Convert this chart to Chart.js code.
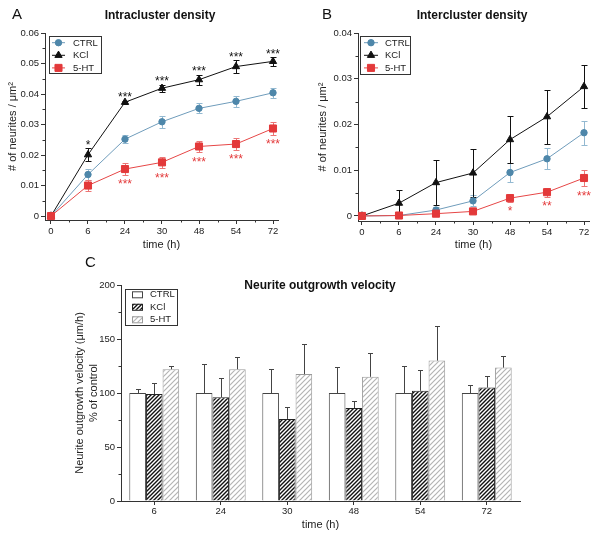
<!DOCTYPE html>
<html>
<head>
<meta charset="utf-8">
<script src="https://cdn.jsdelivr.net/npm/chart.js@4.4.0/dist/chart.umd.min.js"></script>
<style>
  body { margin: 0; background: #fff; width: 600px; height: 534px; position: relative; overflow: hidden;
         font-family: 'Liberation Sans', Arial, sans-serif; color: #111; }
  canvas { position: absolute; }
  .panel { position: absolute; font-size: 15px; line-height: 15px; }
  .title { position: absolute; font-size: 12px; line-height: 12px; font-weight: bold;
           transform: translateX(-50%); white-space: nowrap; }
</style>
</head>
<body>
<canvas id="intraChart" width="300" height="260" style="left:0;top:0"></canvas>
<canvas id="interChart" width="300" height="260" style="left:300px;top:0"></canvas>
<canvas id="velocityChart" width="600" height="264" style="left:0;top:270px"></canvas>
<div class="panel" style="left:12px;top:6px">A</div>
<div class="panel" style="left:322px;top:6px">B</div>
<div class="panel" style="left:85px;top:254px">C</div>
<div class="title" style="left:160px;top:9px">Intracluster density</div>
<div class="title" style="left:472px;top:9px">Intercluster density</div>
<div class="title" style="left:320px;top:279px">Neurite outgrowth velocity</div>

<script>
// time points (A, B)
const timeLabels = ['0', '6', '24', '30', '48', '54', '72'];

// A - intracluster density
const ctrlIntra = [0, 0.0136, 0.0252, 0.0309, 0.0353, 0.0376, 0.0404];
const ctrlIntraErr = [0, 0.0018, 0.0014, 0.0019, 0.0016, 0.0017, 0.0016];
const kclIntra = [0, 0.0201, 0.0373, 0.0419, 0.0447, 0.0490, 0.0507];
const kclIntraErr = [0, 0.0021, 0.0005, 0.0011, 0.0016, 0.0020, 0.0014];
const htIntra = [0, 0.0100, 0.0154, 0.0176, 0.0228, 0.0236, 0.0287];
const htIntraErr = [0, 0.0019, 0.0019, 0.0019, 0.0019, 0.0019, 0.0021];
const kclIntraStars = ['', '*', '***', '***', '***', '***', '***'];
const htIntraStars = ['', '', '***', '***', '***', '***', '***'];
const intraTicks = [0, 0.01, 0.02, 0.03, 0.04, 0.05, 0.06];

// B - intercluster density
const ctrlInter = [0, 0.0001, 0.0013, 0.0033, 0.0095, 0.0125, 0.0182];
const ctrlInterErr = [0, 0.0001, 0.0006, 0.0012, 0.0021, 0.0023, 0.0026];
const kclInter = [0, 0.0028, 0.0073, 0.0094, 0.0167, 0.0217, 0.0283];
const kclInterErr = [0, 0.0028, 0.0049, 0.0052, 0.0051, 0.0059, 0.0047];
const htInter = [0, 0.0001, 0.0005, 0.0010, 0.0039, 0.0052, 0.0083];
const htInterErr = [0, 0, 0.0002, 0.0002, 0.0008, 0.0010, 0.0018];
const htInterStars = ['', '', '', '', '*', '**', '***'];
const interTicks = [0, 0.01, 0.02, 0.03, 0.04];

// C - outgrowth velocity (% of control)
const velLabels = ['6', '24', '30', '48', '54', '72'];
const ctrlVel = [100, 100, 100, 100, 100, 100];
const ctrlVelErr = [4, 27, 22, 24, 25, 7];
const kclVel = [99, 96, 76, 86, 102, 105];
const kclVelErr = [10, 18, 11, 7, 19, 11];
const htVel = [122, 122, 117.5, 115, 130, 123.5];
const htVelErr = [3, 11, 28, 22.5, 32.5, 11];
const velTicks = [0, 50, 100, 150, 200];

const FONT = "'Liberation Sans', Arial, sans-serif";
const tickFont = { family: FONT, size: 9.5 };
const axisTitleFont = { family: FONT, size: 11 };
const AXIS = '#333';

const midpoints = (arr) => arr.slice(1).map((v, i) => (v + arr[i]) / 2);
const toPoints = (arr) => arr.map((v, i) => ({ x: i, y: v }));

// error bars, drawn from the dataset's own scale
const drawErrors = (chart) => {
  const { ctx } = chart;
  chart.data.datasets.forEach((ds, i) => {
    if (!ds.errors) return;
    const meta = chart.getDatasetMeta(i);
    const yScale = chart.scales[meta.yAxisID];
    const cap = ds.capWidth || 3;
    ctx.save();
    ctx.strokeStyle = ds.errorColor;
    ctx.lineWidth = 1;
    meta.data.forEach((el, j) => {
      const err = ds.errors[j];
      if (!err) return;
      const raw = ds.data[j];
      const v = typeof raw === 'object' ? raw.y : raw;
      const top = Math.round(yScale.getPixelForValue(v + err)) + 0.5;
      const bottom = ds.upOnly ? el.y : Math.round(yScale.getPixelForValue(v - err)) + 0.5;
      const x = Math.round(el.x) + 0.5;
      ctx.beginPath();
      ctx.moveTo(x, top); ctx.lineTo(x, bottom);
      ctx.moveTo(x - cap, top); ctx.lineTo(x + cap, top);
      if (!ds.upOnly) { ctx.moveTo(x - cap, bottom); ctx.lineTo(x + cap, bottom); }
      ctx.stroke();
    });
    ctx.restore();
  });
};

const errorBars = {
  id: 'errorBars',
  beforeDatasetsDraw(chart) { if (chart.config.type === 'line') drawErrors(chart); },
  afterDatasetsDraw(chart) { if (chart.config.type === 'bar') drawErrors(chart); }
};

// significance asterisks above / below the error bars
const starLabels = {
  id: 'starLabels',
  afterDatasetsDraw(chart) {
    const { ctx } = chart;
    chart.data.datasets.forEach((ds, i) => {
      if (!ds.stars) return;
      const meta = chart.getDatasetMeta(i);
      const yScale = chart.scales[meta.yAxisID];
      ctx.save();
      ctx.fillStyle = ds.starColor;
      ctx.font = '12px ' + FONT;
      ctx.textAlign = 'center';
      ctx.textBaseline = 'alphabetic';
      meta.data.forEach((el, j) => {
        const s = ds.stars[j];
        if (!s) return;
        const v = ds.data[j].y;
        const err = ds.errors[j] || 0;
        const y = ds.starsBelow
          ? yScale.getPixelForValue(v - err) + 13.6
          : yScale.getPixelForValue(v + err) + 0.5;
        ctx.fillText(s, el.x, y);
      });
      ctx.restore();
    });
  }
};

// small minor ticks half way between the major ones
const minorTicks = {
  id: 'minorTicks',
  afterDraw(chart, args, opts) {
    const { ctx } = chart;
    ctx.save();
    ctx.strokeStyle = AXIS;
    ctx.lineWidth = 1;
    ctx.beginPath();
    (opts.y || []).forEach(v => {
      const s = chart.scales.y;
      const y = Math.round(s.getPixelForValue(v)) + 0.5;
      ctx.moveTo(s.right - 2.5, y); ctx.lineTo(s.right, y);
    });
    (opts.x || []).forEach(v => {
      const s = chart.scales.x;
      const x = Math.round(s.getPixelForValue(v)) + 0.5;
      ctx.moveTo(x, s.top); ctx.lineTo(x, s.top + 2.5);
    });
    ctx.stroke();
    ctx.restore();
  }
};

// framed legend inside the plot, like the original figure
const boxLegend = {
  id: 'boxLegend',
  afterDraw(chart, args, o) {
    if (!o.w) return;
    const { ctx } = chart;
    ctx.save();
    ctx.fillStyle = '#fff';
    ctx.fillRect(o.x, o.y, o.w, o.h);
    ctx.strokeStyle = AXIS;
    ctx.lineWidth = 1;
    ctx.strokeRect(o.x + 0.5, o.y + 0.5, o.w, o.h);
    ctx.font = '9.5px ' + FONT;
    ctx.textBaseline = 'middle';
    chart.data.datasets.forEach((ds, i) => {
      const cy = o.y + o.first + i * o.row;
      if (o.kind === 'line') {
        ctx.strokeStyle = ds.borderColor;
        ctx.beginPath();
        ctx.moveTo(o.x + o.lineX0, cy); ctx.lineTo(o.x + o.lineX1, cy);
        ctx.stroke();
        ctx.fillStyle = ds.pointBackgroundColor;
        ctx.strokeStyle = ds.pointBorderColor;
        Chart.helpers.drawPoint(ctx, { pointStyle: ds.pointStyle, radius: ds.pointRadius, borderWidth: 1, rotation: 0 },
          o.x + (o.lineX0 + o.lineX1) / 2, cy);
      } else {
        ctx.fillStyle = ds.backgroundColor;
        ctx.fillRect(o.x + o.lineX0, cy - 3, o.lineX1 - o.lineX0, 6);
        ctx.strokeStyle = ds.borderColor;
        ctx.strokeRect(o.x + o.lineX0 + 0.5, cy - 3 + 0.5, o.lineX1 - o.lineX0, 6);
      }
      ctx.fillStyle = '#222';
      ctx.fillText(ds.label, o.x + o.textX, cy + 0.5);
    });
    ctx.restore();
  }
};

Chart.register(errorBars, starLabels, minorTicks, boxLegend);

const hatch = (lineColor, size, width) => {
  const c = document.createElement('canvas');
  c.width = c.height = size;
  const g = c.getContext('2d');
  g.fillStyle = '#fff';
  g.fillRect(0, 0, size, size);
  g.strokeStyle = lineColor;
  g.lineWidth = width;
  g.beginPath();
  g.moveTo(0, size); g.lineTo(size, 0);
  g.moveTo(-size / 2, size / 2); g.lineTo(size / 2, -size / 2);
  g.moveTo(size / 2, size * 1.5); g.lineTo(size * 1.5, size / 2);
  g.stroke();
  return c.getContext('2d').createPattern(c, 'repeat');
};

const lineSeries = (label, data, errors, color, errColor, style, radius, order) => ({
  label,
  data: toPoints(data),
  errors,
  errorColor: errColor,
  borderColor: color.line,
  borderWidth: 1,
  pointStyle: style,
  pointRadius: radius,
  pointBackgroundColor: color.point,
  pointBorderColor: color.point,
  pointBorderWidth: 1,
  tension: 0,
  fill: false,
  clip: false,
  order,
});

const CTRL = { line: '#6f9cbb', point: '#4e87aa' };
const KCL = { line: '#111111', point: '#111111' };
const HT = { line: '#e64646', point: '#e3393a' };

const densityScales = (yMin, yMax, yTicks, xMin, yWidth, xHeight, yTitlePad, yFmt) => ({
  x: {
    type: 'linear',
    min: xMin,
    max: 6.135,
    afterBuildTicks: s => { s.ticks = timeLabels.map((_, i) => ({ value: i })); },
    afterFit: s => { s.height = xHeight; },
    grid: { drawOnChartArea: false, tickLength: 4, tickColor: AXIS },
    border: { color: AXIS },
    ticks: { autoSkip: false, maxRotation: 0, padding: 2, color: '#222', font: tickFont,
             callback: v => timeLabels[v] ?? '' },
    title: { display: true, text: 'time (h)', color: '#222', font: axisTitleFont, padding: { top: 0, bottom: 8.4 } },
  },
  y: {
    min: yMin,
    max: yMax,
    afterBuildTicks: s => { s.ticks = yTicks.map(v => ({ value: v })); },
    afterFit: s => { s.width = yWidth; },
    grid: { drawOnChartArea: false, tickLength: 4, tickColor: AXIS },
    border: { color: AXIS },
    ticks: { autoSkip: false, padding: 2, color: '#222', font: tickFont, callback: yFmt },
    title: { display: true, text: '# of neurites / μm²', color: '#222', font: axisTitleFont, padding: { top: yTitlePad, bottom: 0 } },
  },
});

const densityFmt = v => (v === 0 ? '0' : v.toFixed(2));
const timeMinor = midpoints(timeLabels.map((_, i) => i));

const createIntraChart = () => {
  const el = document.getElementById('intraChart');
  const kcl = lineSeries('KCl', kclIntra, kclIntraErr, KCL, '#111', 'triangle', 4.2, 1);
  kcl.stars = kclIntraStars; kcl.starColor = '#111';
  const ht = lineSeries('5-HT', htIntra, htIntraErr, HT, '#ec7676', 'rect', 5, 0);
  ht.stars = htIntraStars; ht.starColor = '#e3393a'; ht.starsBelow = true;
  new Chart(el, {
    type: 'line',
    data: {
      datasets: [
        lineSeries('CTRL', ctrlIntra, ctrlIntraErr, CTRL, '#93b9d1', 'circle', 3.2, 2),
        kcl,
        ht,
      ],
    },
    options: {
      responsive: false,
      animation: false,
      layout: { padding: { top: 33, right: 22, left: 0, bottom: 0 } },
      scales: densityScales(-0.0013, 0.06, intraTicks, -0.162, 45, 40, 6.4, densityFmt),
      plugins: {
        legend: { display: false },
        tooltip: { enabled: false },
        minorTicks: { x: timeMinor, y: midpoints(intraTicks) },
        boxLegend: { kind: 'line', x: 49, y: 36, w: 52, h: 37, first: 6.7, row: 12.6, lineX0: 3, lineX1: 16, textX: 24 },
      },
    },
  });
};

const createInterChart = () => {
  const el = document.getElementById('interChart');
  const ht = lineSeries('5-HT', htInter, htInterErr, HT, '#ec7676', 'rect', 5, 0);
  ht.stars = htInterStars; ht.starColor = '#e3393a'; ht.starsBelow = true;
  new Chart(el, {
    type: 'line',
    data: {
      datasets: [
        lineSeries('CTRL', ctrlInter, ctrlInterErr, CTRL, '#93b9d1', 'circle', 3.2, 2),
        lineSeries('KCl', kclInter, kclInterErr, KCL, '#111', 'triangle', 4.2, 1),
        ht,
      ],
    },
    options: {
      responsive: false,
      animation: false,
      layout: { padding: { top: 33, right: 11, left: 0, bottom: 0 } },
      scales: densityScales(-0.0011, 0.04, interTicks, -0.108, 58, 39, 16.4, densityFmt),
      plugins: {
        legend: { display: false },
        tooltip: { enabled: false },
        minorTicks: { x: timeMinor, y: midpoints(interTicks) },
        boxLegend: { kind: 'line', x: 60, y: 36, w: 50, h: 38, first: 6.7, row: 12.6, lineX0: 4, lineX1: 18, textX: 25 },
      },
    },
  });
};

const createVelocityChart = () => {
  const el = document.getElementById('velocityChart');
  const bar = (label, data, errors, fill, border) => ({
    label, data, errors,
    upOnly: true,
    capWidth: 2.5,
    errorColor: '#444',
    backgroundColor: fill,
    borderColor: border,
    borderWidth: 1,
  });
  new Chart(el, {
    type: 'bar',
    data: {
      labels: velLabels,
      datasets: [
        bar('CTRL', ctrlVel, ctrlVelErr, '#ffffff', '#444'),
        bar('KCl', kclVel, kclVelErr, hatch('#111', 4, 1.4), '#222'),
        bar('5-HT', htVel, htVelErr, hatch('#b4b4b4', 5, 1.2), '#9a9a9a'),
      ],
    },
    options: {
      responsive: false,
      animation: false,
      layout: { padding: { top: 15, right: 80, left: 0, bottom: 0 } },
      datasets: { bar: { categoryPercentage: 0.75, barPercentage: 1 } },
      scales: {
        x: {
          afterFit: s => { s.height = 33; },
          grid: { drawOnChartArea: false, offset: false, tickLength: 4, tickColor: AXIS },
          border: { color: AXIS },
          ticks: { padding: 1, color: '#222', font: tickFont, maxRotation: 0 },
          title: { display: true, text: 'time (h)', color: '#222', font: axisTitleFont, padding: { top: 0, bottom: 2.4 } },
        },
        y: {
          min: 0,
          max: 200,
          afterBuildTicks: s => { s.ticks = velTicks.map(v => ({ value: v })); },
          afterFit: s => { s.width = 121; },
          grid: { drawOnChartArea: false, tickLength: 4, tickColor: AXIS },
          border: { color: AXIS },
          ticks: { padding: 2, color: '#222', font: tickFont },
          title: {
            display: true,
            text: ['Neurite outgrowth velocity (μm/h)', '% of control'],
            color: '#222',
            font: { family: FONT, size: 11, lineHeight: 14 / 11 },
            padding: { top: 73, bottom: 0 },
          },
        },
      },
      plugins: {
        legend: { display: false },
        tooltip: { enabled: false },
        minorTicks: { y: midpoints(velTicks) },
        boxLegend: { kind: 'bar', x: 125, y: 19, w: 52, h: 36, first: 5.3, row: 12.5, lineX0: 7, lineX1: 17, textX: 25 },
      },
    },
  });
};

createIntraChart();
createInterChart();
createVelocityChart();
</script>
</body>
</html>
